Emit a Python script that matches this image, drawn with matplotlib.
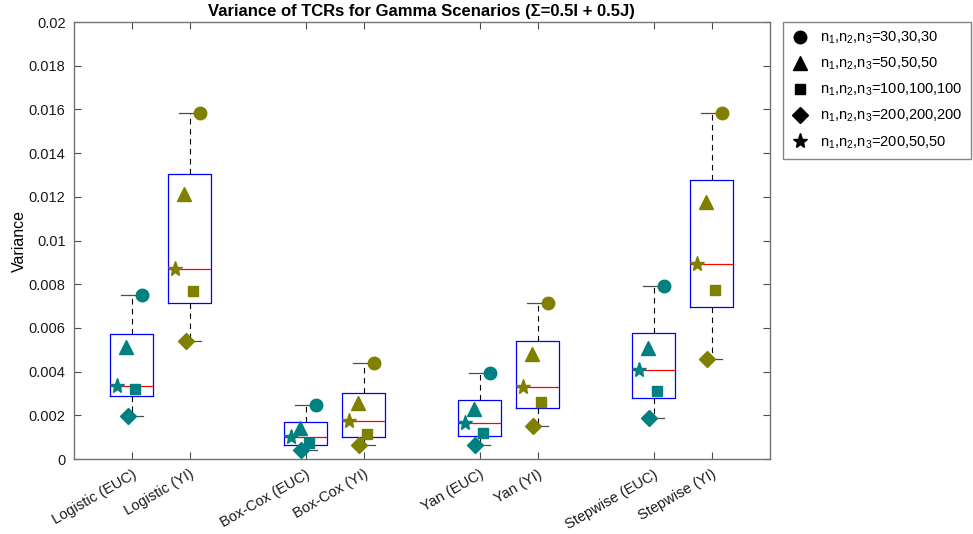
import numpy as np
import matplotlib.pyplot as plt
from matplotlib.lines import Line2D

plt.rcParams['font.family'] = ['Liberation Sans', 'DejaVu Sans']
plt.rcParams['mathtext.fontset'] = 'custom'
plt.rcParams['mathtext.rm'] = 'Liberation Sans'
plt.rcParams['mathtext.it'] = 'Liberation Sans'

labels = ['Logistic (EUC)', 'Logistic (YI)', 'Box-Cox (EUC)', 'Box-Cox (YI)',
          'Yan (EUC)', 'Yan (YI)', 'Stepwise (EUC)', 'Stepwise (YI)']

# variance of TCR estimates for each sample-size setting
n30 = [0.00752, 0.01585, 0.00246, 0.00441, 0.00394, 0.00715, 0.00792, 0.01582]
n50 = [0.00514, 0.01211, 0.00143, 0.00255, 0.00227, 0.00480, 0.00507, 0.01175]
n100 = [0.00320, 0.00769, 0.00072, 0.00116, 0.00119, 0.00259, 0.00311, 0.00772]
n200 = [0.00198, 0.00541, 0.00041, 0.00064, 0.00065, 0.00151, 0.00186, 0.00458]
n200_50 = [0.00334, 0.00870, 0.00101, 0.00174, 0.00165, 0.00328, 0.00407, 0.00891]

legend_labels = [r'n$_1$,n$_2$,n$_3$=30,30,30', r'n$_1$,n$_2$,n$_3$=50,50,50',
                 r'n$_1$,n$_2$,n$_3$=100,100,100', r'n$_1$,n$_2$,n$_3$=200,200,200',
                 r'n$_1$,n$_2$,n$_3$=200,50,50']

series = [n30, n50, n100, n200, n200_50]
markers = ['o', '^', 's', 'D', '*']
msizes = [9, 10, 7.5, 8, 11]
offsets = [0.18, -0.1, 0.05, -0.075, -0.25]
positions = [1, 2, 4, 5, 7, 8, 10, 11]
colors = ['#008080', '#808000'] * 4

data = np.array(series).T  # one row per box

# box statistics with MATLAB-style percentiles
stats = []
for row in data:
    q1, med, q3 = np.percentile(row, [25, 50, 75], method='hazen')
    stats.append(dict(med=med, q1=q1, q3=q3, whislo=row.min(), whishi=row.max(),
                      fliers=[]))

fig = plt.figure(figsize=(9.73, 5.34), dpi=100)
ax = fig.add_axes([0.076, 0.1404, 0.715, 0.8184])

ax.bxp(stats, positions=positions, widths=0.74, capwidths=0.37,
       showfliers=False,
       boxprops=dict(color='blue', lw=0.9),
       medianprops=dict(color='red', lw=0.9),
       whiskerprops=dict(color='black', lw=0.8, linestyle=(0, (5, 4))),
       capprops=dict(color='0.3', lw=0.9))

for vals, m, ms, off in zip(series, markers, msizes, offsets):
    for x, v, c in zip(positions, vals, colors):
        ax.plot(x + off, v, marker=m, ms=ms, color=c, mec=c, ls='none', zorder=4)

ax.set_xlim(0, 12)
ax.set_ylim(0, 0.02)
yt = np.arange(0, 0.0201, 0.002)
ax.set_yticks(yt)
ax.set_yticklabels(['%g' % round(t, 3) for t in yt])
ax.set_xticks(positions)
ax.set_xticklabels(labels, rotation=30, ha='right', rotation_mode='anchor')
ax.tick_params(direction='in', top=True, right=True, length=5, width=0.8,
               color='0.3', labelsize=10.5, labelcolor='0.1', pad=6)
ax.tick_params(axis='x', pad=6)
for s in ax.spines.values():
    s.set_color('0.45')
    s.set_linewidth(1.0)

ax.set_ylabel('Variance', fontsize=11.5, labelpad=1)
ax.set_title('Variance of TCRs for Gamma Scenarios (\u03a3=0.5I + 0.5J)',
             fontsize=12, fontweight='bold', pad=4)

handles = [Line2D([], [], marker=m, color='black', ls='none', ms=ms)
           for m, ms in zip(markers, msizes)]
leg = fig.legend(handles, legend_labels, loc='upper left',
                 bbox_to_anchor=(783 / 973, 1 - 22 / 534), fontsize=10.5,
                 frameon=True, fancybox=False, edgecolor='0.4',
                 labelspacing=0.66, handletextpad=0.8, borderpad=0.55,
                 borderaxespad=0, handlelength=1.2)
leg.get_frame().set_linewidth(1.0)

fig.savefig('out.png', dpi=100)
